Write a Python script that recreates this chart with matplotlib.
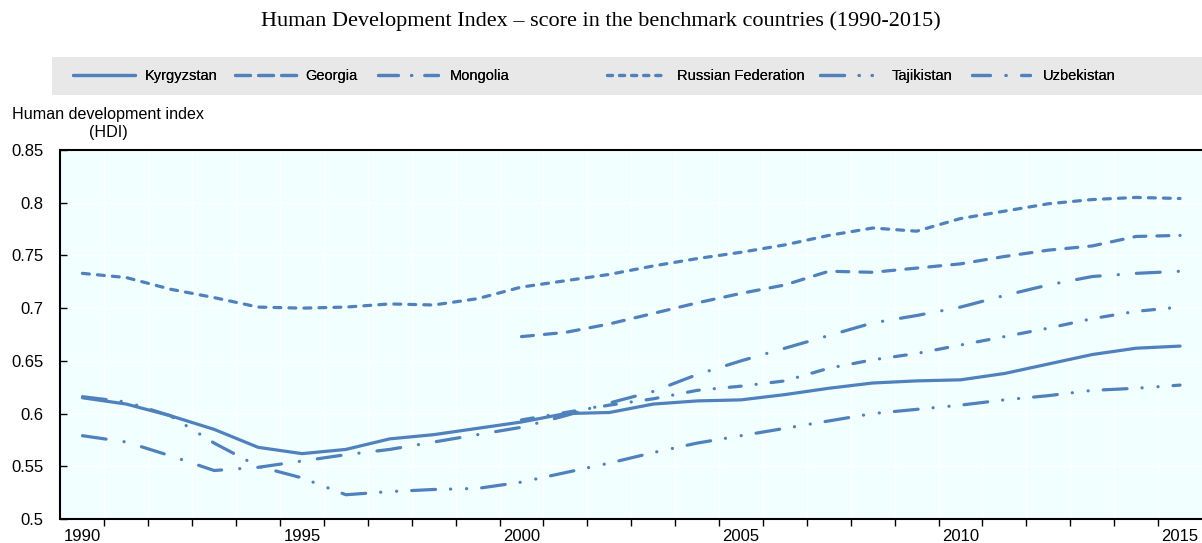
import matplotlib
matplotlib.use("Agg")
import matplotlib.pyplot as plt
import numpy as np
from matplotlib.patches import Rectangle
from matplotlib.lines import Line2D
from matplotlib.ticker import FuncFormatter, MultipleLocator, FixedLocator

years = list(range(1990, 2016))
kyrgyzstan = [0.615, 0.609, 0.598, 0.585, 0.568, 0.562, 0.566, 0.576, 0.580, 0.586,
              0.592, 0.600, 0.601, 0.609, 0.612, 0.613, 0.618, 0.624, 0.629, 0.631,
              0.632, 0.638, 0.647, 0.656, 0.662, 0.664]
georgia = [None] * 10 + [0.673, 0.677, 0.685, 0.695, 0.705, 0.714, 0.722, 0.735, 0.734, 0.738,
                         0.742, 0.749, 0.755, 0.759, 0.768, 0.769]
mongolia = [0.579, 0.573, 0.560, 0.546, 0.549, 0.555, 0.561, 0.566, 0.573, 0.580,
            0.587, 0.598, 0.610, 0.621, 0.637, 0.650, 0.662, 0.674, 0.686, 0.693,
            0.701, 0.712, 0.722, 0.730, 0.733, 0.735]
russia = [0.733, 0.729, 0.718, 0.710, 0.701, 0.700, 0.701, 0.704, 0.703, 0.709,
          0.720, 0.726, 0.732, 0.740, 0.747, 0.753, 0.760, 0.769, 0.776, 0.773,
          0.785, 0.792, 0.799, 0.803, 0.805, 0.804]
tajikistan = [0.616, 0.611, 0.598, 0.572, 0.550, 0.539, 0.523, 0.526, 0.528, 0.529,
              0.535, 0.544, 0.553, 0.563, 0.572, 0.579, 0.586, 0.593, 0.600, 0.604,
              0.608, 0.613, 0.617, 0.622, 0.624, 0.627]
uzbekistan = [None] * 10 + [0.594, 0.601, 0.608, 0.614, 0.622, 0.626, 0.631, 0.643, 0.651, 0.657,
                            0.665, 0.673, 0.681, 0.690, 0.697, 0.701]

series_names = ["Kyrgyzstan", "Georgia", "Mongolia", "Russian Federation", "Tajikistan", "Uzbekistan"]
series_values = [kyrgyzstan, georgia, mongolia, russia, tajikistan, uzbekistan]
x_labels = ["1990", "1995", "2000", "2005", "2010", "2015"]

plt.rcParams['lines.scale_dashes'] = False
FONT = ['Liberation Sans', 'DejaVu Sans']
plt.rcParams['font.family'] = FONT

color = '#4F81BD'
LW = 2.3
styles = [
    '-',
    (0, (8.6, 8.0)),
    (0, (17.2, 13, 0.1, 13)),
    (0, (5.0, 5.8)),
    (0, (17.2, 10.8, 0.1, 11.4, 0.1, 10.8)),
    (0, (8.6, 10.8, 0.1, 10.8)),
]
legend_styles = [
    '-',
    (0, (10.8, 5.8)),
    (0, (14.3, 9.5, 0.1, 9.5)),
    (0, (3.6, 5.1)),
    (0, (17.3, 10.5, 0.1, 9.3, 0.1, 10.5)),
    (0, (12.9, 11.2, 0.1, 11.2)),
]

W, H = 1202, 543
fig = plt.figure(figsize=(W / 100, H / 100), dpi=100)
ax = fig.add_axes([60.5 / W, (H - 519) / H, (1202 - 60.5) / W, (519 - 150) / H])
ax.set_facecolor('#F2FFFF')

for name, vals, ls in zip(series_names, series_values, styles):
    y = np.array([np.nan if v is None else v for v in vals], dtype=float)
    ax.plot(years, y, color=color, lw=LW, linestyle=ls,
            dash_capstyle='round', solid_capstyle='round', label=name)

ax.set_xlim(1989.5, 2015.5)
ax.set_ylim(0.5, 0.85)

ax.xaxis.set_major_locator(FixedLocator([int(s) for s in x_labels]))
ax.xaxis.set_major_formatter(FuncFormatter(lambda v, p: f"{int(round(v))}"))
ax.xaxis.set_minor_locator(FixedLocator([y + 0.5 for y in years[:-1]]))
ax.tick_params(axis='x', which='major', length=0, pad=7, labelsize=12)
ax.tick_params(axis='x', which='minor', length=5, width=1, direction='out', color='black')

ax.yaxis.set_major_locator(MultipleLocator(0.05))
ax.yaxis.set_major_formatter(FuncFormatter(lambda v, p: f"{v:.2f}".rstrip('0').rstrip('.')))
ax.tick_params(axis='y', which='major', length=5, width=1, direction='in', labelsize=12, pad=12)

ax.grid(True, which='minor', axis='x', color='white', lw=1)
ax.grid(True, which='major', axis='y', color='white', lw=1)
ax.set_axisbelow(True)

for s in ['left', 'bottom', 'top']:
    ax.spines[s].set_color('black')
    ax.spines[s].set_linewidth(1.5)
ax.spines['right'].set_visible(False)

# legend background band
fig.patches.append(Rectangle((52 / W, (H - 95) / H), (1202 - 52) / W, 38 / H,
                             transform=fig.transFigure, facecolor='#E8E8E8',
                             edgecolor='none', zorder=0))
leg_x = [73, 235, 378, 607, 820, 972]
leg_hl = [62, 62, 60, 60, 56, 58]
leg_pad = [10, 8, 12, 10, 16, 13]
fs = 10.5
em = fs * 100 / 72
for name, ls, x0, hl, pd in zip(series_names, legend_styles, leg_x, leg_hl, leg_pad):
    proxy = Line2D([], [], color=color, lw=LW, linestyle=ls,
                   dash_capstyle='round', solid_capstyle='round', label=name)
    lg = fig.legend(handles=[proxy], loc='center left', bbox_to_anchor=(x0 / W, (H - 76) / H),
                    frameon=False, fontsize=fs, handlelength=hl / em, handletextpad=pd / em,
                    borderpad=0, borderaxespad=0)
    fig.add_artist(lg)

fig.text(601 / W, 1 - 21 / H,
         "Human Development Index \u2013 score in the benchmark countries (1990-2015)",
         ha='center', va='center', fontsize=16, family=['Liberation Serif', 'DejaVu Serif'])
fig.text(108 / W, 1 - 123 / H, "Human development index\n(HDI)", ha='center', va='center',
         fontsize=11.6, linespacing=1.25)

fig.savefig("out.png", dpi=100)
